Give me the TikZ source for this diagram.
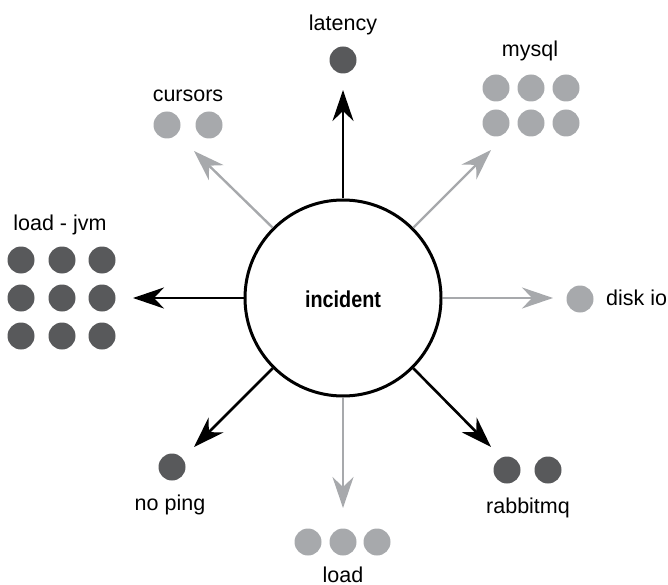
\documentclass[tikz,border=0pt]{standalone}
\usepackage{fontspec}
\setmainfont{Liberation Sans}
\newfontfamily\condbold[FakeStretch=0.86]{Liberation Sans}
\usetikzlibrary{arrows.meta}
\definecolor{dk}{HTML}{58595B}
\definecolor{lt}{HTML}{A7A9AC}
\begin{document}
\begin{tikzpicture}[x=1pt,y=-1pt,
  dotdark/.style={circle,fill=dk,minimum size=27pt,inner sep=0pt},
  dotlight/.style={circle,fill=lt,minimum size=27pt,inner sep=0pt},
  lbl/.style={font=\fontsize{21.5}{23}\selectfont,inner sep=0pt,anchor=base},
  tipstyle/.style={-{Stealth[length=31pt,width=21pt,inset=10pt]}},
  arrblack/.style={tipstyle,draw=black,line width=2.6pt},
  arrgray/.style={tipstyle,draw=lt,line width=2.4pt}]
\useasboundingbox (0,0) rectangle (668,585);
% centre
\node[circle,draw,line width=3pt,minimum size=196pt,inner sep=0pt] (inc) at (343,298) {};
\node[inner sep=0pt,anchor=base,font=\condbold\bfseries\fontsize{23}{25}\selectfont] (inclbl) at (343,307) {incident};
% latency
\node[dotdark] (lat1) at (343,60) {};
\node[lbl] (latl) at (343,31) {latency};
\coordinate (latT) at (343,90);
% cursors
\node[dotlight] (cur1) at (167,125) {};
\node[dotlight] (cur2) at (209,125) {};
\node[lbl] (curl) at (188,102) {cursors};
\coordinate (curT) at (194,151);
% mysql
\foreach \i/\x in {1/496,2/531,3/566}{
  \node[dotlight] (my\i) at (\x,88) {};
  \node[dotlight] (myb\i) at (\x,123) {};
}
\node[lbl] (myl) at (530,57) {mysql};
\coordinate (myT) at (491,150);
% load - jvm
\foreach \i/\x in {1/21,2/62,3/102}{
  \foreach \j/\y in {1/260,2/298,3/336}{
    \node[dotdark] (jv\i\j) at (\x,\y) {};
  }
}
\node[lbl] (jvl) at (60,230) {load - jvm};
\coordinate (jvT) at (133,298);
% disk io
\node[dotlight] (dk1) at (580,299) {};
\node[lbl,anchor=base west] (dkl) at (606,305) {disk io};
\coordinate (dkT) at (553,298);
% rabbitmq
\node[dotdark] (rb1) at (507,470) {};
\node[dotdark] (rb2) at (548,470) {};
\node[lbl] (rbl) at (528,513) {rabbitmq};
\coordinate (rbT) at (491,447);
% no ping
\node[dotdark] (np1) at (172,467) {};
\node[lbl] (npl) at (170,510) {no ping};
\coordinate (npT) at (194,447);
% load
\node[dotlight] (ld1) at (308,542) {};
\node[dotlight] (ld2) at (343,542) {};
\node[dotlight] (ld3) at (377,542) {};
\node[lbl] (ldl) at (343,582) {load};
\coordinate (ldT) at (343,508);
% connectors
\draw[arrblack] (inc.90) -- (latT);
\draw[arrgray] (inc.135) -- (curT);
\draw[arrgray] (inc.45) -- (myT);
\draw[arrblack] (inc.180) -- (jvT);
\draw[arrgray] (inc.0) -- (dkT);
\draw[arrblack] (inc.-45) -- (rbT);
\draw[arrblack] (inc.-135) -- (npT);
\draw[arrgray] (inc.-90) -- (ldT);
\end{tikzpicture}
\end{document}
